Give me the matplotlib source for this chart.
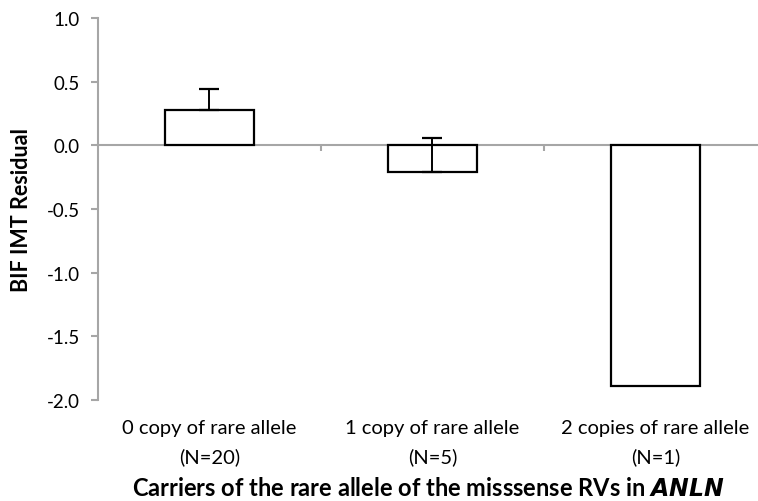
import matplotlib.pyplot as plt
import matplotlib.transforms as mtransforms

plt.rcParams["font.family"] = ["Lato", "DejaVu Sans"]

categories = ["0 copy of rare allele\n(N=20)", "1 copy of rare allele\n(N=5)", "2 copies of rare allele\n(N=1)"]
means = [0.28, -0.21, -1.89]
err_plus = [0.165, 0.27]  # third group N=1, no error bar
y_ticks = [1.0, 0.5, 0.0, -0.5, -1.0, -1.5, -2.0]

fig = plt.figure(figsize=(7.58, 5.02), dpi=100)
ax = fig.add_axes([0.129, 0.201, 0.871, 0.761])

x = list(range(len(categories)))
ax.bar(x, means, width=0.40, color="white", edgecolor="black", linewidth=1.6, zorder=3)
ax.errorbar(x[:2], means[:2], yerr=[[0] * 2, err_plus], fmt="none", ecolor="black",
            elinewidth=1.4, capsize=7, capthick=1.6, zorder=4)

ax.set_ylim(-2.0, 1.0)
ax.set_xlim(-0.5, 2.46)
ax.set_yticks(y_ticks)
ax.set_yticklabels([f"{t:.1f}" for t in y_ticks], fontsize=13.5)

grey = "#A6A6A6"
for s in ["top", "right"]:
    ax.spines[s].set_visible(False)
ax.spines["left"].set_color(grey)
ax.spines["left"].set_linewidth(1.5)
ax.spines["bottom"].set_position(("data", 0))
ax.spines["bottom"].set_color(grey)
ax.spines["bottom"].set_linewidth(1.5)
ax.spines["bottom"].set_zorder(2)
ax.tick_params(axis="y", direction="out", length=5, width=1.5, color=grey, pad=8)
ax.set_xticks([])
ax.set_xticks([0.5, 1.5], minor=True)
ax.tick_params(axis="x", which="minor", direction="out", length=4, width=1.5, color=grey,
               labelbottom=False)

trans = mtransforms.blended_transform_factory(ax.transData, ax.transAxes)
for i, lab in enumerate(categories):
    ax.text(i, -0.05, lab, transform=trans, ha="center", va="top", fontsize=14.5,
            linespacing=1.75)

fig.text(22 / 758, 0.582, "BIF IMT Residual", rotation=90, ha="center", va="center",
         fontsize=15.5, fontweight="bold")
fig.text(0.565, 0.026, r"Carriers of the rare allele of the misssense RVs in $\bfit{ANLN}$",
         ha="center", va="center", fontsize=17, fontweight="bold")

fig.savefig("out.png", dpi=100)
